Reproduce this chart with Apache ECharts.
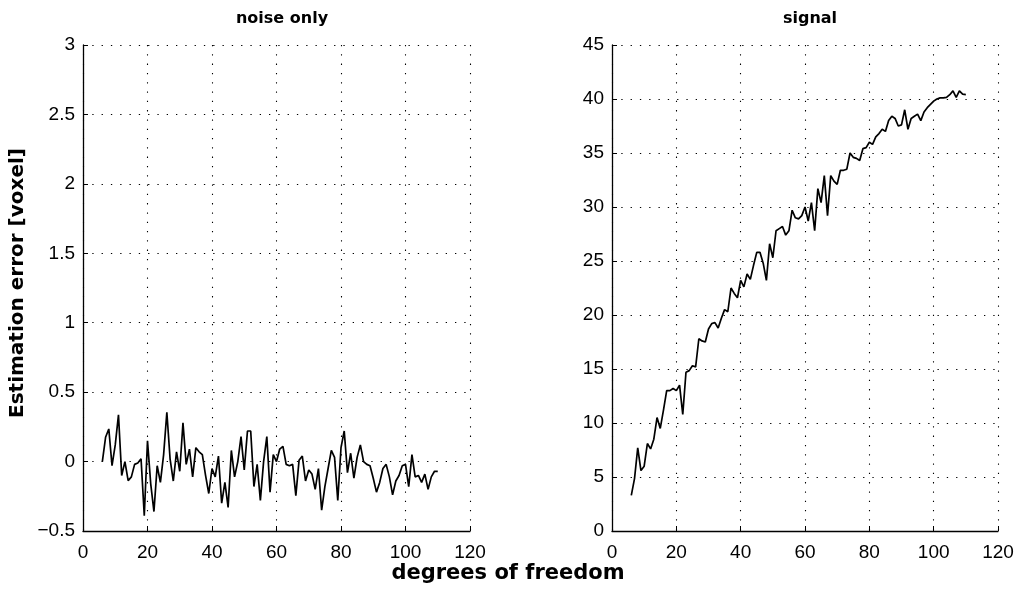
<!DOCTYPE html>
<html>
<head>
<meta charset="utf-8">
<script src="https://cdn.jsdelivr.net/npm/echarts@6/dist/echarts.min.js"></script>
<style>
html,body{margin:0;padding:0;background:#fff;}
#c{width:1017px;height:593px;}
</style>
</head>
<body>
<div id="c"></div>
<script>
// degrees of freedom (x) for both panels
var dof = [];
for (var d = 6; d <= 110; d++) dof.push(d);

// noise only: estimation error [voxel], one value per dof 6..110
var noiseOnly = [
  0.00, 0.175, 0.235, -0.03, 0.12, 0.336, -0.10, 0.00, -0.137, -0.11,
  -0.02, -0.01, 0.02, -0.39, 0.15, -0.16, -0.36, -0.03, -0.15, 0.05,
  0.355, 0.02, -0.14, 0.07, -0.07, 0.28, -0.02, 0.09, -0.11, 0.10,
  0.07, 0.05, -0.10, -0.23, -0.05, -0.11, 0.04, -0.30, -0.15, -0.33,
  0.08, -0.11, 0.00, 0.18, -0.06, 0.22, 0.22, -0.18, -0.02, -0.28,
  0.00, 0.18, -0.22, 0.05, 0.00, 0.09, 0.11, -0.02, -0.03, -0.02,
  -0.245, 0.01, 0.04, -0.14, -0.06, -0.09, -0.20, -0.05, -0.35, -0.18,
  -0.05, 0.08, 0.03, -0.28, 0.10, 0.22, -0.08, 0.06, -0.12, 0.03,
  0.12, 0.00, -0.02, -0.03, -0.12, -0.22, -0.15, -0.05, -0.02, -0.11,
  -0.24, -0.14, -0.10, -0.03, -0.02, -0.18, 0.05, -0.11, -0.10, -0.15,
  -0.09, -0.20, -0.11, -0.07, -0.07
];

// signal: estimation error [voxel], one value per dof 6..110
var signal = [
  3.3, 4.85, 7.7, 5.6, 6.0, 8.1, 7.6, 8.5, 10.5, 9.5,
  11.2, 13.0, 13.0, 13.2, 13.0, 13.5, 10.8, 14.7, 14.85, 15.3,
  15.2, 17.8, 17.6, 17.5, 18.7, 19.2, 19.3, 18.8, 19.7, 20.5,
  20.3, 22.5, 22.0, 21.6, 23.2, 22.6, 23.8, 23.3, 24.6, 25.8,
  25.8, 24.8, 23.2, 26.6, 25.3, 27.8, 28.0, 28.2, 27.4, 27.8,
  29.7, 29.0, 28.9, 29.2, 30.0, 28.7, 30.4, 27.8, 31.7, 30.4,
  32.9, 29.2, 32.9, 32.4, 32.1, 33.4, 33.4, 33.5, 35.0, 34.6,
  34.5, 34.3, 35.4, 35.5, 36.0, 35.8, 36.5, 36.8, 37.2, 37.0,
  38.0, 38.4, 38.2, 37.5, 37.6, 39.0, 37.2, 38.2, 38.4, 38.6,
  38.0, 38.8, 39.2, 39.5, 39.8, 40.0, 40.1, 40.1, 40.15, 40.4,
  40.75, 40.15, 40.75, 40.45, 40.4
];

var panelTitles = ['noise only', 'signal'];
var xLabel = 'degrees of freedom';
var yLabel = 'Estimation error [voxel]';

function pairs(xs, ys) {
  var out = [];
  for (var i = 0; i < ys.length; i++) out.push([xs[i], ys[i]]);
  return out;
}

var font = 'Liberation Sans, Arial, Helvetica, sans-serif';
var boldFont = '"DejaVu Sans", Verdana, sans-serif';
var grid = {
  show: true, lineStyle: { color: '#000', width: 1.1, type: [1.3, 8] }
};
function xAx(idx) {
  return {
    type: 'value', gridIndex: idx, min: 0, max: 120, interval: 20,
    axisLine: { show: true, onZero: false, lineStyle: { color: '#000', width: 1.3 } },
    axisTick: { show: true, inside: true, length: 5, lineStyle: { color: '#000' } },
    axisLabel: { color: '#000', fontSize: 19, fontFamily: font, margin: 12 },
    splitLine: grid
  };
}
function yAx(idx, mn, mx, step) {
  return {
    type: 'value', gridIndex: idx, min: mn, max: mx, interval: step,
    axisLine: { show: true, onZero: false, lineStyle: { color: '#000', width: 1.3 } },
    axisTick: { show: true, inside: true, length: 5, lineStyle: { color: '#000' } },
    axisLabel: {
      color: '#000', fontSize: 19, fontFamily: font, margin: 8,
      formatter: function (v) { return String(v).replace('-', '\u2212'); }
    },
    splitLine: grid
  };
}

var chart = echarts.init(document.getElementById('c'), null, { renderer: 'canvas' });
chart.setOption({
  animation: false,
  backgroundColor: '#fff',
  title: [
    { text: panelTitles[0], left: 277, top: 6, textAlign: 'center',
      textStyle: { fontSize: 16, fontWeight: 'bold', fontFamily: boldFont, color: '#000' } },
    { text: panelTitles[1], left: 805, top: 6, textAlign: 'center',
      textStyle: { fontSize: 16, fontWeight: 'bold', fontFamily: boldFont, color: '#000' } }
  ],
  grid: [
    { left: 83, right: 547, top: 45, bottom: 62 },
    { left: 612, right: 19, top: 45, bottom: 62 }
  ],
  xAxis: [xAx(0), xAx(1)],
  yAxis: [yAx(0, -0.5, 3, 0.5), yAx(1, 0, 45, 5)],
  graphic: [
    { type: 'text', x: 508, y: 574,
      style: { text: xLabel, font: 'bold 21px ' + boldFont, fill: '#000', textAlign: 'center', textVerticalAlign: 'middle' } },
    { type: 'text', x: 18, y: 283, rotation: Math.PI / 2,
      style: { text: yLabel, font: 'bold 20px ' + boldFont, fill: '#000', textAlign: 'center', textVerticalAlign: 'middle' } }
  ],
  series: [
    { type: 'line', xAxisIndex: 0, yAxisIndex: 0, data: pairs(dof, noiseOnly),
      showSymbol: false, lineStyle: { color: '#000', width: 1.7 } },
    { type: 'line', xAxisIndex: 1, yAxisIndex: 1, data: pairs(dof, signal),
      showSymbol: false, lineStyle: { color: '#000', width: 1.7 } }
  ]
});
</script>
</body>
</html>
